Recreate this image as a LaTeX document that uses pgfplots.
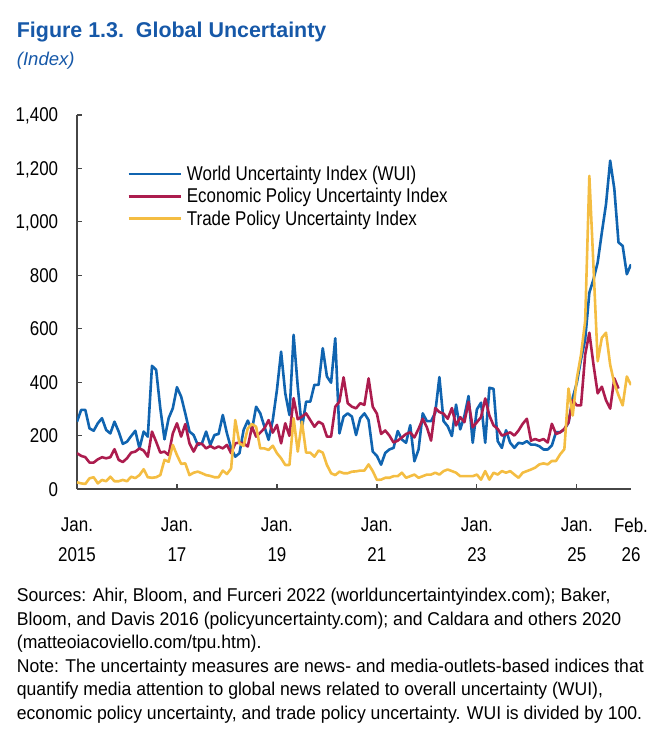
\documentclass[border=0pt]{standalone}
\usepackage{fontspec}
\setmainfont{Liberation Sans}[FakeStretch=0.85]
\newfontfamily\hdfont{Liberation Sans}
\newfontfamily\notefont{Liberation Sans}[FakeStretch=0.95]
\usepackage{pgfplots}
\usepackage{pgfplotstable}
\pgfplotsset{compat=1.18}
\definecolor{wuiblue}{RGB}{16,100,176}
\definecolor{epured}{RGB}{172,28,78}
\definecolor{tpuyellow}{RGB}{244,189,66}
\definecolor{titleblue}{RGB}{22,88,168}
\definecolor{axisgray}{RGB}{70,70,70}

\pgfplotstableread{
m wui epu tpu
0 252 134 25
1 296 124 21
2 296 119 19
3 227 99 40
4 218 99 44
5 246 111 21
6 265 119 34
7 221 115 29
8 208 119 46
9 252 149 29
10 215 109 29
11 169 101 34
12 177 115 29
13 198 136 46
14 218 140 41
15 152 152 52
16 215 144 74
17 196 121 44
18 461 215 42
19 446 177 44
20 302 136 52
21 186 140 109
22 265 127 102
23 302 208 165
24 381 246 127
25 346 196 94
26 283 243 96
27 215 171 52
28 202 140 61
29 165 171 65
30 171 169 59
31 215 152 52
32 165 161 49
33 202 152 44
34 206 159 44
35 277 152 69
36 208 165 56
37 152 134 77
38 121 171 258
39 134 174 171
40 221 171 161
41 256 159 227
42 221 233 243
43 308 196 233
44 283 211 152
45 233 227 152
46 184 258 146
47 258 211 162
48 371 240 134
49 514 171 115
50 358 246 90
51 277 199 90
52 577 340 265
53 383 261 140
54 227 271 252
55 327 283 136
56 327 258 136
57 390 233 121
58 390 252 144
59 527 243 136
60 421 196 90
61 398 196 59
62 564 308 52
63 208 327 65
64 271 418 59
65 283 321 59
66 271 308 65
67 202 302 66
68 265 321 69
69 283 315 69
70 258 414 92
71 140 308 67
72 124 282 34
73 91 206 35
74 135 219 42
75 148 200 42
76 154 174 48
77 217 181 48
78 185 193 61
79 173 206 42
80 239 212 48
81 104 193 54
82 148 225 42
83 283 263 48
84 254 231 54
85 254 181 54
86 285 303 61
87 419 288 54
88 254 282 67
89 235 263 73
90 198 303 67
91 316 238 61
92 223 269 48
93 273 250 48
94 348 326 48
95 173 231 48
96 298 250 54
97 323 269 35
98 173 339 67
99 379 275 35
100 375 238 61
101 179 225 54
102 154 200 67
103 220 206 61
104 173 212 67
105 154 200 54
106 173 219 42
107 170 244 61
108 179 263 67
109 166 181 73
110 166 187 80
111 160 181 92
112 148 187 96
113 148 174 92
114 163 244 105
115 213 206 105
116 213 212 130
117 223 225 149
118 248 250 376
119 341 332 275
120 398 313 414
121 485 313 503
122 560 503 629
123 735 585 1172
124 785 465 831
125 848 358 478
126 960 383 566
127 1066 332 585
128 1229 301 465
129 1123 414 395
130 923 376 351
131 910 nan 313
132 804 nan 421
133 841 nan 389
}\datatable

\begin{document}
\begin{tikzpicture}
\begin{axis}[
  scale only axis,
  width=554bp, height=374bp,
  xmin=0, xmax=133, ymin=0, ymax=1400,
  axis lines*=left,
  axis line style={line width=1.3bp, axisgray},
  tick align=inside,
  major tick length=5bp,
  tick style={line width=1.2bp, axisgray},
  xtick={0,24,48,72,96,120},
  xticklabels={Jan.\\2015,Jan.\\17,Jan.\\19,Jan.\\21,Jan.\\23,Jan.\\25},
  extra x ticks={133},
  extra x tick labels={Feb.\\26},
  extra x tick style={major tick length=0pt},
  xticklabel style={align=center, anchor=north, inner sep=0pt, yshift=-28.7bp,
    font=\fontsize{20}{29.5}\selectfont},
  ytick={0,200,400,600,800,1000,1200,1400},
  yticklabels={0,200,400,600,800,{1,000},{1,200},{1,400}},
  yticklabel style={anchor=base east, inner sep=0pt, xshift=-18.7bp, yshift=-7bp,
    font=\fontsize{20}{24}\selectfont},
  legend style={at={(0.0905,0.8645)}, anchor=north west, draw=none, fill=none,
    inner sep=0pt, row sep=6.5bp, column sep=5bp,
    font=\fontsize{20}{23.5}\selectfont,
    nodes={inner sep=0pt}},
  legend cell align=left,
  legend image code/.code={\draw[#1] (0bp,0bp) -- (52bp,0bp);},
]
\addplot[wuiblue, line width=2.6bp, line join=round] table[x=m, y=wui] {\datatable};
\addlegendentry{World Uncertainty Index (WUI)}
\addplot[epured, line width=2.6bp, line join=round] table[x=m, y=epu] {\datatable};
\addlegendentry{Economic Policy Uncertainty Index}
\addplot[tpuyellow, line width=2.6bp, line join=round] table[x=m, y=tpu] {\datatable};
\addlegendentry{Trade Policy Uncertainty Index}
\end{axis}
\node[anchor=base west, inner sep=0pt, text=titleblue] at (-60.3bp,451.7bp)
  {\hdfont\bfseries\fontsize{21.5}{24}\selectfont Figure 1.3.\ \ Global Uncertainty};
\node[anchor=base west, inner sep=0pt, text=titleblue] at (-60.3bp,423.5bp)
  {\hdfont\itshape\fontsize{18.6}{22}\selectfont (Index)};
\begin{scope}[every node/.style={anchor=base west, inner sep=0pt, font=\notefont\fontsize{18.6}{23.5}\selectfont}]
\node at (-60.3bp,-112.7bp) {Sources: Ahir, Bloom, and Furceri 2022 (worlduncertaintyindex.com); Baker,};
\node at (-60.3bp,-136.2bp) {Bloom, and Davis 2016 (policyuncertainty.com); and Caldara and others 2020};
\node at (-60.3bp,-159.7bp) {(matteoiacoviello.com/tpu.htm).};
\node at (-60.3bp,-183.2bp) {Note: The uncertainty measures are news- and media-outlets-based indices that};
\node at (-60.3bp,-206.7bp) {quantify media attention to global news related to overall uncertainty (WUI),};
\node at (-60.3bp,-230.2bp) {economic policy uncertainty, and trade policy uncertainty. WUI is divided by 100.};
\end{scope}
\pgfresetboundingbox
\useasboundingbox (-77bp,-253bp) rectangle (573bp,489bp);
\end{tikzpicture}
\end{document}
